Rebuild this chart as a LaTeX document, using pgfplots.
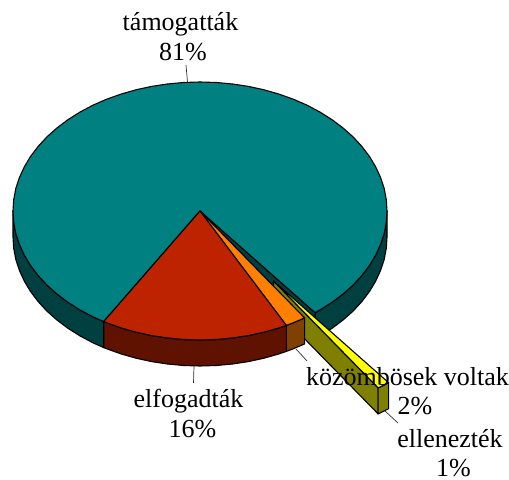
\documentclass[border=0pt]{standalone}
\usepackage{fontspec}
\setmainfont{Liberation Serif}
\usepackage{pgfplots}
\pgfplotsset{compat=1.18}
\definecolor{tealtop}{HTML}{008080}
\definecolor{tealside}{HTML}{004040}
\definecolor{redtop}{HTML}{BE2300}
\definecolor{redside}{HTML}{5F1200}
\definecolor{orangetop}{HTML}{FF8000}
\definecolor{orangeside}{HTML}{804000}
\definecolor{yellowtop}{HTML}{FFFF00}
\definecolor{yellowside}{HTML}{808000}
\begin{document}
\begin{tikzpicture}
\begin{axis}[
    scale only axis,
    width=509bp,
    height=480bp,
    xmin=0, xmax=509,
    ymin=0, ymax=480,
    y dir=reverse,
    hide axis,
    clip=false,
    every axis plot/.append style={line width=1.1bp, line join=round},
]
% keeps the page at the full canvas, hide axis would trim it
\path (axis cs:0,0) rectangle (axis cs:509,480);
% outer side walls of the big slice
\addplot[fill=tealside, draw=black] coordinates {
  (13,211)(13.7,222.2)(15.8,233.4)(19.4,244.4)(24.3,255.1)(30.5,265.5)(38.1,275.5)(46.8,285)(56.8,293.9)(67.8,302.2)(79.8,309.8)(92.7,316.7)(103.7,321.6)
  (103.7,347.6)(92.7,342.7)(79.8,335.8)(67.8,328.2)(56.8,319.9)(46.8,311)(38.1,301.5)(30.5,291.5)(24.3,281.1)(19.4,270.4)(15.8,259.4)(13.7,248.2)(13,237)
} --cycle;
\addplot[fill=tealside, draw=black] coordinates {
  (315.1,312.7)(320.2,309.8)(332.2,302.2)(343.2,293.9)(353.2,285)(361.9,275.5)(369.5,265.5)(375.7,255.1)(380.6,244.4)(384.2,233.4)(386.3,222.2)(387,211)
  (387,237)(386.3,248.2)(384.2,259.4)(380.6,270.4)(375.7,281.1)(369.5,291.5)(361.9,301.5)(353.2,311)(343.2,319.9)(332.2,328.2)(320.2,335.8)(315.1,338.7)
} --cycle;
% cut face
\addplot[fill=tealside, draw=black] coordinates {
  (200,211)(315.1,312.7)(315.1,338.7)(200,237)
} --cycle;
% top of the big slice
\addplot[fill=tealtop, draw=black] coordinates {
  (200,211)(315.1,312.7)(320.2,309.8)(332.2,302.2)(343.2,293.9)(353.2,285)(361.9,275.5)(369.5,265.5)(375.7,255.1)(380.6,244.4)(384.2,233.4)(386.3,222.2)(387,211)
  (386.3,199.8)(384.2,188.6)(380.6,177.6)(375.7,166.9)(369.5,156.5)(361.9,146.5)(353.2,137)(343.2,128.1)(332.2,119.8)(320.2,112.2)(307.3,105.3)(293.5,99.3)(279,94.1)(264,89.8)(248.4,86.4)(232.5,84)(216.3,82.5)
  (200,82)(183.7,82.5)(167.5,84)(151.6,86.4)(136,89.8)(121,94.1)(106.5,99.3)(92.7,105.3)(79.8,112.2)(67.8,119.8)(56.8,128.1)(46.8,137)(38.1,146.5)(30.5,156.5)(24.3,166.9)(19.4,177.6)(15.8,188.6)(13.7,199.8)
  (13,211)(13.7,222.2)(15.8,233.4)(19.4,244.4)(24.3,255.1)(30.5,265.5)(38.1,275.5)(46.8,285)(56.8,293.9)(67.8,302.2)(79.8,309.8)(92.7,316.7)(103.7,321.6)
} --cycle;
% exploded 1% slice
\addplot[fill=yellowside, draw=black] coordinates {
  (273.5,281)(378.1,387.9)(378.1,413.9)(273.5,307)
} --cycle;
\addplot[fill=yellowside, draw=black] coordinates {
  (378.1,387.9)(380.8,386.7)(383.4,385.4)(386,384)(388.6,382.7)
  (388.6,408.7)(386,410)(383.4,411.4)(380.8,412.7)(378.1,413.9)
} --cycle;
\addplot[fill=yellowtop, draw=black] coordinates {
  (273.5,281)(388.6,382.7)(386,384)(383.4,385.4)(380.8,386.7)(378.1,387.9)
} --cycle;
% 2% slice
\addplot[fill=orangeside, draw=black] coordinates {
  (304.6,317.9)(293.5,322.7)(286.3,325.4)(286.3,351.4)(293.5,348.7)(304.6,343.9)
} --cycle;
\addplot[fill=orangetop, draw=black] coordinates {
  (200,211)(304.6,317.9)(293.5,322.7)(286.3,325.4)
} --cycle;
% 16% slice
\addplot[fill=redside, draw=black] coordinates {
  (286.3,325.4)(279,327.9)(264,332.2)(248.4,335.6)(232.5,338)(216.3,339.5)(200,340)(183.7,339.5)(167.5,338)(151.6,335.6)(136,332.2)(121,327.9)(106.5,322.7)(103.7,321.6)
  (103.7,347.6)(106.5,348.7)(121,353.9)(136,358.2)(151.6,361.6)(167.5,364)(183.7,365.5)(200,366)(216.3,365.5)(232.5,364)(248.4,361.6)(264,358.2)(279,353.9)(286.3,351.4)
} --cycle;
\addplot[fill=redtop, draw=black] coordinates {
  (200,211)(286.3,325.4)(279,327.9)(264,332.2)(248.4,335.6)(232.5,338)(216.3,339.5)(200,340)(183.7,339.5)(167.5,338)(151.6,335.6)(136,332.2)(121,327.9)(106.5,322.7)(103.7,321.6)
} --cycle;
% leader lines
\addplot[draw=black!80, line width=0.7bp] coordinates {(186,65)(187.5,82)};
\addplot[draw=black!80, line width=0.7bp] coordinates {(194,366)(193.5,383)};
\addplot[draw=black!80, line width=0.7bp] coordinates {(296,349)(307,361)};
\addplot[draw=black!80, line width=0.7bp] coordinates {(385,411)(398,423)};
% labels
\node[anchor=base, inner sep=0pt, font=\fontsize{26bp}{30bp}\selectfont] at (axis cs:180.5,31) {támogatták};
\node[anchor=base, inner sep=0pt, font=\fontsize{26bp}{30bp}\selectfont] at (axis cs:183,61) {81\%};
\node[anchor=base, inner sep=0pt, font=\fontsize{26bp}{30bp}\selectfont] at (axis cs:188.5,408) {elfogadták};
\node[anchor=base, inner sep=0pt, font=\fontsize{26bp}{30bp}\selectfont] at (axis cs:192.5,438) {16\%};
\node[anchor=base, inner sep=0pt, font=\fontsize{26bp}{30bp}\selectfont] at (axis cs:407.5,386) {közömbösek voltak};
\node[anchor=base, inner sep=0pt, font=\fontsize{26bp}{30bp}\selectfont] at (axis cs:415,415) {2\%};
\node[anchor=base, inner sep=0pt, font=\fontsize{26bp}{30bp}\selectfont] at (axis cs:450,448) {ellenezték};
\node[anchor=base, inner sep=0pt, font=\fontsize{26bp}{30bp}\selectfont] at (axis cs:453.5,477) {1\%};
\end{axis}
\end{tikzpicture}
\end{document}
